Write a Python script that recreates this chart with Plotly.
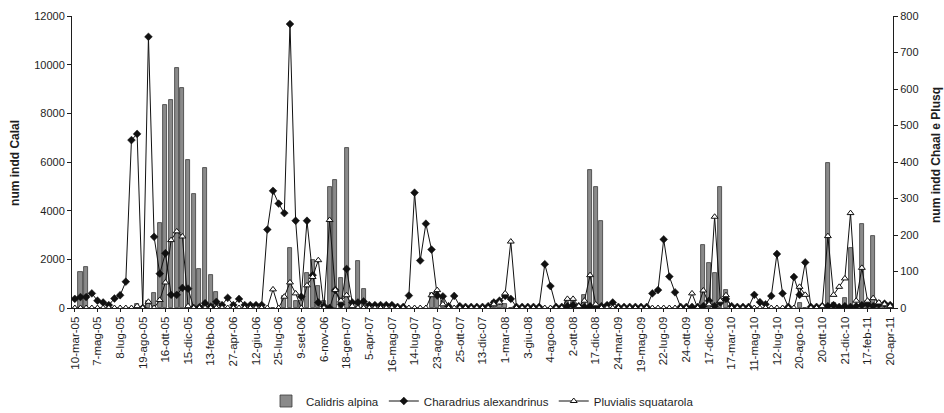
import plotly.graph_objects as go

# Sampling dates shown on the axis (one label every 4 surveys)
tick_labels = [
    "10-mar-05", "7-mag-05", "8-lug-05", "19-ago-05", "16-ott-05", "15-dic-05",
    "13-feb-06", "27-apr-06", "12-giu-06", "25-lug-06", "9-set-06", "6-nov-06",
    "18-gen-07", "5-apr-07", "16-mag-07", "14-lug-07", "23-ago-07", "25-ott-07",
    "13-dic-07", "1-mar-08", "3-giu-08", "4-ago-08", "2-ott-08", "17-dic-08",
    "24-mar-09", "19-mag-09", "22-lug-09", "24-ott-09", "17-dic-09", "17-mar-10",
    "11-mag-10", "12-lug-10", "20-ago-10", "20-ott-10", "21-dic-10", "17-feb-11",
    "20-apr-11",
]
label_step = 4

# Counts per survey (left axis)
calidris_alpina = [
    0, 1500, 1700, 0, 0, 0, 0, 0, 0, 0,
    0, 150, 0, 300, 620, 3480, 8340, 8550, 9850, 9030,
    6080, 4670, 1600, 5770, 1360, 650, 0, 0, 0, 0,
    0, 0, 0, 0, 0, 0, 0, 500, 2450, 300,
    300, 1425, 1970, 900, 300, 4960, 5260, 1220, 6590, 200,
    1945, 800, 0, 0, 0, 0, 0, 0, 0, 0,
    0, 0, 0, 600, 600, 300, 0, 0, 0, 0,
    0, 0, 0, 0, 300, 200, 150, 0, 0, 0,
    0, 0, 0, 0, 0, 0, 0, 250, 250, 0,
    535, 5670, 4960, 3590, 0, 0, 0, 0, 0, 0,
    0, 0, 0, 0, 0, 0, 0, 0, 0, 0,
    0, 2590, 1870, 1450, 4960, 740, 0, 0, 0, 0,
    0, 0, 0, 0, 0, 0, 0, 0, 200, 0,
    0, 0, 0, 5970, 200, 0, 420, 2450, 0, 3450,
    300, 2970, 300, 100, 0,
]

# Counts per survey (right axis)
charadrius_alexandrinus = [
    25, 30, 30, 40, 20, 15, 8, 26, 35, 72,
    460, 477, 0, 743, 195, 94, 150, 36, 36, 55,
    53, 0, 2, 13, 4, 17, 8, 28, 8, 25,
    8, 8, 8, 8, 215, 321, 286, 260, 778, 239,
    31, 239, 90, 15, 5, 0, 49, 10, 107, 15,
    15, 18, 8, 8, 8, 8, 8, 3, 3, 34,
    316, 130, 231, 160, 34, 32, 5, 33, 5, 3,
    3, 3, 3, 5, 15, 20, 33, 25, 3, 3,
    3, 3, 3, 120, 60, 3, 3, 5, 8, 5,
    3, 5, 3, 5, 8, 15, 3, 3, 3, 3,
    3, 3, 40, 49, 188, 86, 43, 3, 3, 3,
    3, 5, 20, 5, 15, 25, 5, 3, 3, 3,
    36, 16, 10, 33, 148, 40, 3, 85, 36, 125,
    3, 3, 5, 5, 8, 3, 5, 3, 5, 8,
    10, 5, 10, 12, 8,
]

pluvialis_squatarola = [
    0, 0, 0, 0, 0, 0, 0, 0, 0, 0,
    0, 5, 0, 17, 0, 22, 70, 186, 210, 196,
    5, 0, 0, 0, 0, 0, 0, 0, 0, 0,
    0, 0, 0, 0, 0, 51, 0, 31, 70, 40,
    0, 62, 85, 131, 0, 241, 49, 20, 35, 5,
    0, 0, 0, 0, 0, 0, 0, 0, 0, 0,
    0, 0, 0, 35, 49, 10, 0, 0, 0, 0,
    0, 0, 0, 0, 10, 15, 40, 182, 0, 0,
    0, 0, 0, 0, 0, 0, 0, 25, 25, 5,
    20, 90, 10, 0, 0, 0, 0, 0, 0, 0,
    0, 0, 0, 0, 0, 0, 0, 0, 0, 40,
    0, 48, 10, 250, 20, 35, 0, 0, 0, 0,
    0, 0, 0, 0, 0, 0, 0, 0, 58, 36,
    0, 0, 5, 197, 36, 58, 81, 260, 20, 110,
    20, 27, 15, 10, 5,
]

n = len(calidris_alpina)
idx = list(range(n))
tick_pos = [i * label_step for i in range(len(tick_labels))]

FONT = "Liberation Sans, Arial, sans-serif"
INK = "#1e1e1e"

fig = go.Figure()
fig.add_trace(go.Bar(
    x=idx, y=calidris_alpina, name="Calidris alpina",
    marker=dict(color="#8a8a8a", line=dict(color="#3a3a3a", width=0.8)),
    width=0.72, yaxis="y",
))
fig.add_trace(go.Scatter(
    x=idx, y=charadrius_alexandrinus, name="Charadrius alexandrinus",
    mode="lines+markers", yaxis="y2",
    line=dict(color="#111111", width=1),
    marker=dict(symbol="diamond", size=6, color="#111111",
                line=dict(color="#111111", width=0.5)),
))
fig.add_trace(go.Scatter(
    x=idx, y=pluvialis_squatarola, name="Pluvialis squatarola",
    mode="lines+markers", yaxis="y2",
    line=dict(color="#111111", width=1),
    marker=dict(symbol="triangle-up", size=6, color="white",
                line=dict(color="#111111", width=1)),
))

axis_common = dict(showgrid=False, zeroline=False, showline=True,
                   linecolor=INK, linewidth=1, ticks="outside",
                   tickcolor=INK, ticklen=4, automargin=False,
                   tickfont=dict(family=FONT, size=11, color=INK))

fig.update_layout(
    width=944, height=413,
    margin=dict(l=72, r=51, t=16, b=105, autoexpand=False),
    paper_bgcolor="white", plot_bgcolor="white",
    font=dict(family=FONT, color=INK),
    bargap=0,
    showlegend=True,
    legend=dict(orientation="h", x=0.5, xanchor="center",
                yref="container", y=1 - 401 / 413, yanchor="middle",
                font=dict(family=FONT, size=11.5, color=INK),
                bgcolor="rgba(0,0,0,0)", itemwidth=30),
    xaxis=dict(axis_common, range=[-0.5, n - 0.5], tickmode="array",
               tickvals=tick_pos, ticktext=tick_labels, tickangle=-90,
               ticklen=3, tickfont=dict(family=FONT, size=11.5, color=INK)),
    yaxis=dict(axis_common, range=[0, 12000], dtick=2000, tickformat="d"),
    yaxis2=dict(axis_common, range=[0, 800], dtick=100, overlaying="y",
                side="right", tickformat="d"),
    annotations=[
        dict(text="<b>num indd Calal</b>", xref="paper", yref="paper",
             x=(15 - 72) / 821, y=0.497, xanchor="center", yanchor="middle",
             textangle=-90, showarrow=False,
             font=dict(family=FONT, size=12, color=INK)),
        dict(text="<b>num indd Chaal e Plusq</b>", xref="paper", yref="paper",
             x=(936 - 72) / 821, y=0.524, xanchor="center", yanchor="middle",
             textangle=-90, showarrow=False,
             font=dict(family=FONT, size=12, color=INK)),
    ],
)

fig.write_html("out.html")
